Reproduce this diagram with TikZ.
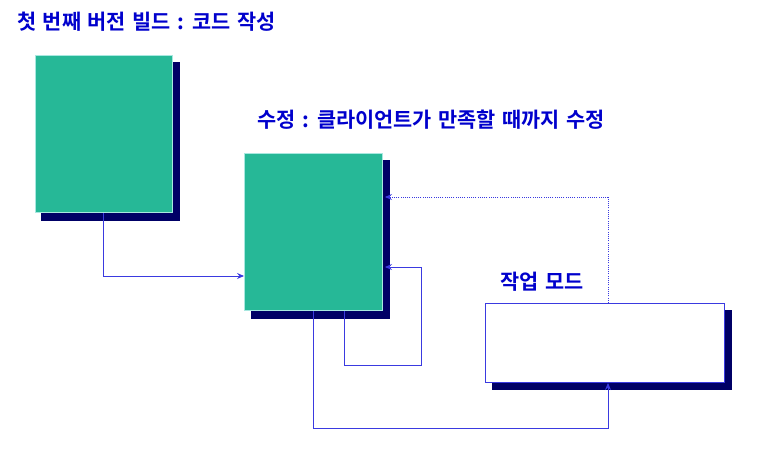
\documentclass[tikz,border=0pt]{standalone}
\usepackage{fontspec}
\newfontfamily\kr{Noto Sans CJK KR Bold}[WordSpace=1.4]
\usetikzlibrary{arrows.meta}
\definecolor{navyshadow}{HTML}{000066}
\definecolor{boxgreen}{HTML}{26B897}
\definecolor{boxedge}{HTML}{A8E8E0}
\definecolor{linkblue}{HTML}{3A3AE0}
\definecolor{titleblue}{HTML}{0000CC}
\begin{document}
\begin{tikzpicture}[x=1pt,y=-1pt,
  shadowbox/.style={fill=navyshadow,draw=none,anchor=north west,inner sep=0pt},
  greenbox/.style={fill=boxgreen,draw=boxedge,line width=1pt,anchor=north west,inner sep=0pt},
  whitebox/.style={fill=white,draw=linkblue,line width=1pt,anchor=north west,inner sep=0pt},
  title/.style={font=\kr\fontsize{20.8}{24}\selectfont,text=titleblue,anchor=west,inner sep=0pt},
  conn/.style={draw=linkblue,line width=0.9pt,-{Stealth[length=7pt,width=6pt,inset=2.5pt]}},
  dotconn/.style={conn,dash pattern=on 1pt off 1.2pt}]
\useasboundingbox (0,0) rectangle (761,460);
% boxes
\node[shadowbox,minimum width=139pt,minimum height=159pt] (s1) at (41,62) {};
\node[greenbox,minimum width=137pt,minimum height=157pt] (b1) at (35,55) {};
\node[shadowbox,minimum width=139pt,minimum height=159pt] (s2) at (251,160) {};
\node[greenbox,minimum width=138pt,minimum height=157pt] (b2) at (244,153) {};
\node[shadowbox,minimum width=240pt,minimum height=80pt] (s3) at (492,310) {};
\node[whitebox,minimum width=239pt,minimum height=79pt] (b3) at (485,303) {};
% titles
\node[title] (t1) at (17,22) {첫 번째 버전 빌드 : 코드 작성};
\node[title] (t2) at (257,120) {수정 : 클라이언트가 만족할 때까지 수정};
\node[title] (t3) at (500,282) {작업 모드};
% connectors
\draw[conn] ([xshift=68pt]b1.south west) |- ([yshift=35pt]b2.south west);
\draw[conn] ([xshift=100pt]b2.south west) -- ++(0,54) -- ++(77,0) |- ([xshift=2pt,yshift=44pt]b2.south east);
\draw[conn] ([xshift=69pt]b2.south west) -- ++(0,117) -| ([xshift=123pt]b3.south west);
\draw[dotconn] ([xshift=123pt]b3.north west) |- ([xshift=2pt,yshift=114pt]b2.south east);
\end{tikzpicture}
\end{document}
